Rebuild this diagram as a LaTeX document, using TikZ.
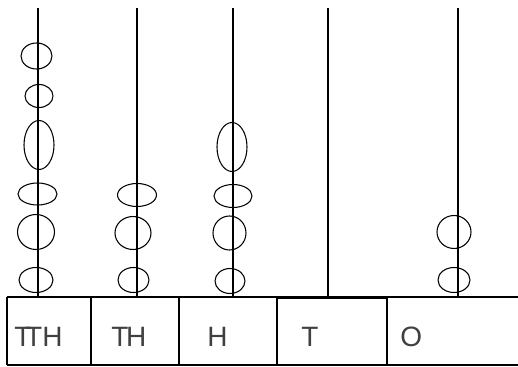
\documentclass[tikz,border=0pt]{standalone}
\usepackage{fontspec}
\setmainfont{Liberation Sans}
\usetikzlibrary{shapes.geometric}
\tikzset{
  bead/.style 2 args={ellipse, draw, line width=0.8pt, inner sep=0pt, outer sep=0pt,
    minimum width=#1*0.75pt, minimum height=#2*0.75pt},
  rod/.style={line width=1.1pt},
  frame/.style={line width=1.1pt},
  lbl/.style={inner sep=0pt, text=black!75, font=\fontsize{21}{24}\selectfont}
}
\begin{document}
\begin{tikzpicture}[x=0.75pt,y=-0.75pt]
\useasboundingbox (0,0) rectangle (518,367);
% box corners
\coordinate (tl) at (7,297);
\coordinate (tr) at (518,297);
\coordinate (bl) at (7,365);
\coordinate (br) at (518,365);
% rods
\foreach \n/\x in {1/38,2/137,3/233,4/328,5/458}{
  \coordinate (r\n t) at (\x,8);
  \coordinate (r\n b) at (\x,297);
  \draw[rod] (r\n t) -- (r\n b);
}
% frame
\draw[frame] (tl) -- (tr);
\draw[frame] (bl) -- (br);
\draw[frame] (tl) -- (bl);
\foreach \n/\x in {1/91,2/179,3/277,4/387}{
  \coordinate (d\n t) at (\x,297);
  \coordinate (d\n b) at (\x,365);
  \draw[frame] (d\n t) -- (d\n b);
}
\coordinate (tboxl) at (277,298.5);
\coordinate (tboxr) at (387,298.5);
\draw[frame] (tboxl) -- (tboxr);
% beads rod 1
\node[bead={31}{26}] (b11) at (36.5,56) {};
\node[bead={28}{23}] (b12) at (39,96) {};
\node[bead={30}{49}] (b13) at (39,145) {};
\node[bead={39}{22}] (b14) at (37.5,194) {};
\node[bead={37}{35}] (b15) at (36,232) {};
\node[bead={34}{25}] (b16) at (36,280) {};
% rod 2
\node[bead={39}{23}] (b21) at (137,195) {};
\node[bead={36}{33}] (b22) at (133,233) {};
\node[bead={31}{25}] (b23) at (133.5,280) {};
% rod 3
\node[bead={30}{49}] (b31) at (232,147) {};
\node[bead={38}{23}] (b32) at (233,196) {};
\node[bead={33}{34}] (b33) at (229.5,233) {};
\node[bead={30}{25}] (b34) at (230,281) {};
% rod 5
\node[bead={34}{33}] (b51) at (454,232) {};
\node[bead={32}{25}] (b52) at (454,280) {};
% labels
\node[lbl, anchor=base west] (lTTH) at (14,346) {T\kern-0.22em TH};
\node[lbl, anchor=base west] (lTH) at (111,346) {T\kern-0.08em H};
\node[lbl, anchor=base west] (lH) at (207,346) {H};
\node[lbl, anchor=base west] (lT) at (301,346) {T};
\node[lbl, anchor=base west] (lO) at (400,346) {O};
\end{tikzpicture}
\end{document}
